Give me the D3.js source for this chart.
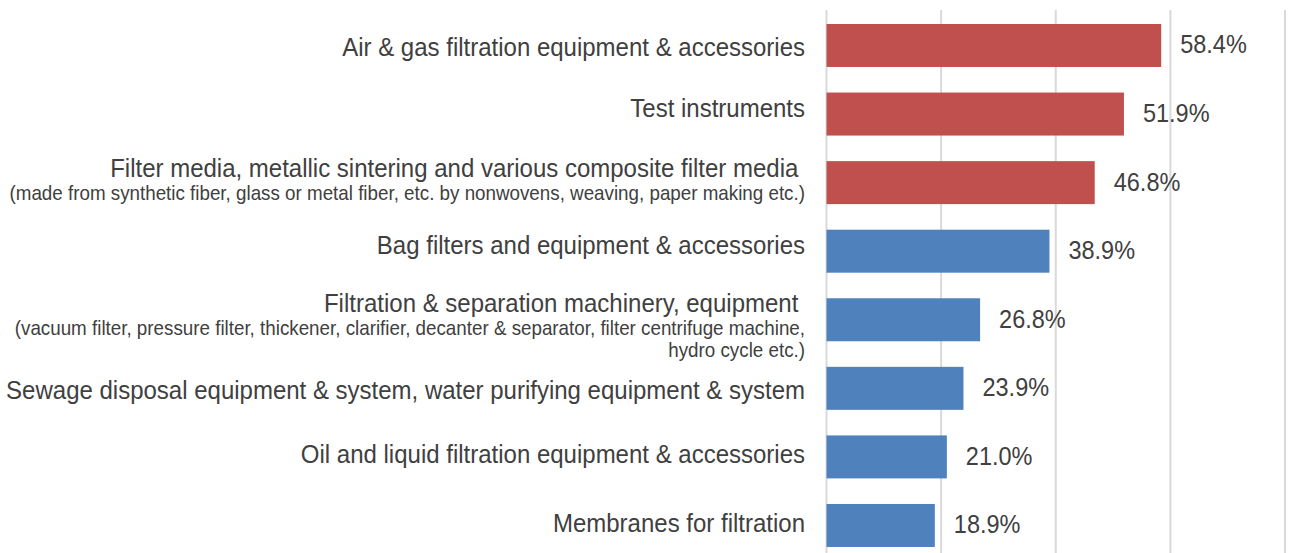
<!DOCTYPE html>
<html><head><meta charset="utf-8">
<script src="https://cdn.jsdelivr.net/npm/d3@7"></script>
<style>html,body{margin:0;padding:0;background:#fff;}svg{display:block;}</style>
</head><body>
<svg id="c" width="1292" height="553"></svg>
<script>
const categories = [
  "Air & gas filtration equipment & accessories",
  "Test instruments",
  "Filter media, metallic sintering and various composite filter media ",
  "Bag filters and equipment & accessories",
  "Filtration & separation machinery, equipment ",
  "Sewage disposal equipment & system, water purifying equipment & system",
  "Oil and liquid filtration equipment & accessories",
  "Membranes for filtration"
];
const subLabels = [
  [], [],
  ["(made from synthetic fiber, glass or metal fiber, etc. by nonwovens, weaving, paper making etc.)"],
  [],
  ["(vacuum filter, pressure filter, thickener, clarifier, decanter & separator, filter centrifuge machine,", "hydro cycle etc.)"],
  [], [], []
];
const values = [58.4, 51.9, 46.8, 38.9, 26.8, 23.9, 21.0, 18.9];
const highlight = [true, true, true, false, false, false, false, false];
const gridTicks = [0, 20, 40, 60, 80];

// layout: vertical nudges of the category labels relative to the bar centre
const labelShift = [1.5, -6, -14, -6, -16.5, 1.5, -3, -2.5];

const svg = d3.select("#c");
const x = d3.scaleLinear().domain([0, 80]).range([826.5, 1285]);
const y = d3.scaleBand().domain(d3.range(categories.length)).range([11.2, 11.2 + 8 * 68.57]).paddingInner(0.373).paddingOuter(0.1865);
const font = "Liberation Sans, Arial, Helvetica, sans-serif";

svg.append("g").selectAll("line").data(gridTicks).join("line")
  .attr("x1", d => x(d)).attr("x2", d => x(d))
  .attr("y1", 10).attr("y2", 553)
  .attr("stroke", "#d9d9d9").attr("stroke-width", 2);

svg.append("g").selectAll("rect").data(values).join("rect")
  .attr("x", x(0)).attr("y", (d, i) => y(i))
  .attr("width", d => x(d) - x(0)).attr("height", y.bandwidth())
  .attr("fill", (d, i) => highlight[i] ? "#c0504d" : "#4f81bd");

svg.append("g").selectAll("text").data(values).join("text")
  .attr("transform", (d, i) => `translate(${x(d) + 19},${y(i) + y.bandwidth() / 2 + 8}) scale(0.94,1)`)
  .attr("font-family", font).attr("font-size", 25)
  .attr("fill", "#404040")
  .text(d => d.toFixed(1) + "%");

const lab = svg.append("g").attr("font-family", font).attr("fill", "#404040").attr("text-anchor", "end");
categories.forEach((c, i) => {
  const mainY = y(i) + y.bandwidth() / 2 + labelShift[i];
  lab.append("text").attr("transform", `translate(805,${mainY}) scale(0.96,1)`)
    .attr("dominant-baseline", "central")
    .attr("font-size", 25).style("white-space", "pre").text(c);
  subLabels[i].forEach((s, k) => {
    lab.append("text").attr("transform", `translate(805,${mainY + 24.5 + k * 22}) scale(0.94,1)`)
      .attr("dominant-baseline", "central")
      .attr("font-size", 20).text(s);
  });
});
</script>
</body></html>
